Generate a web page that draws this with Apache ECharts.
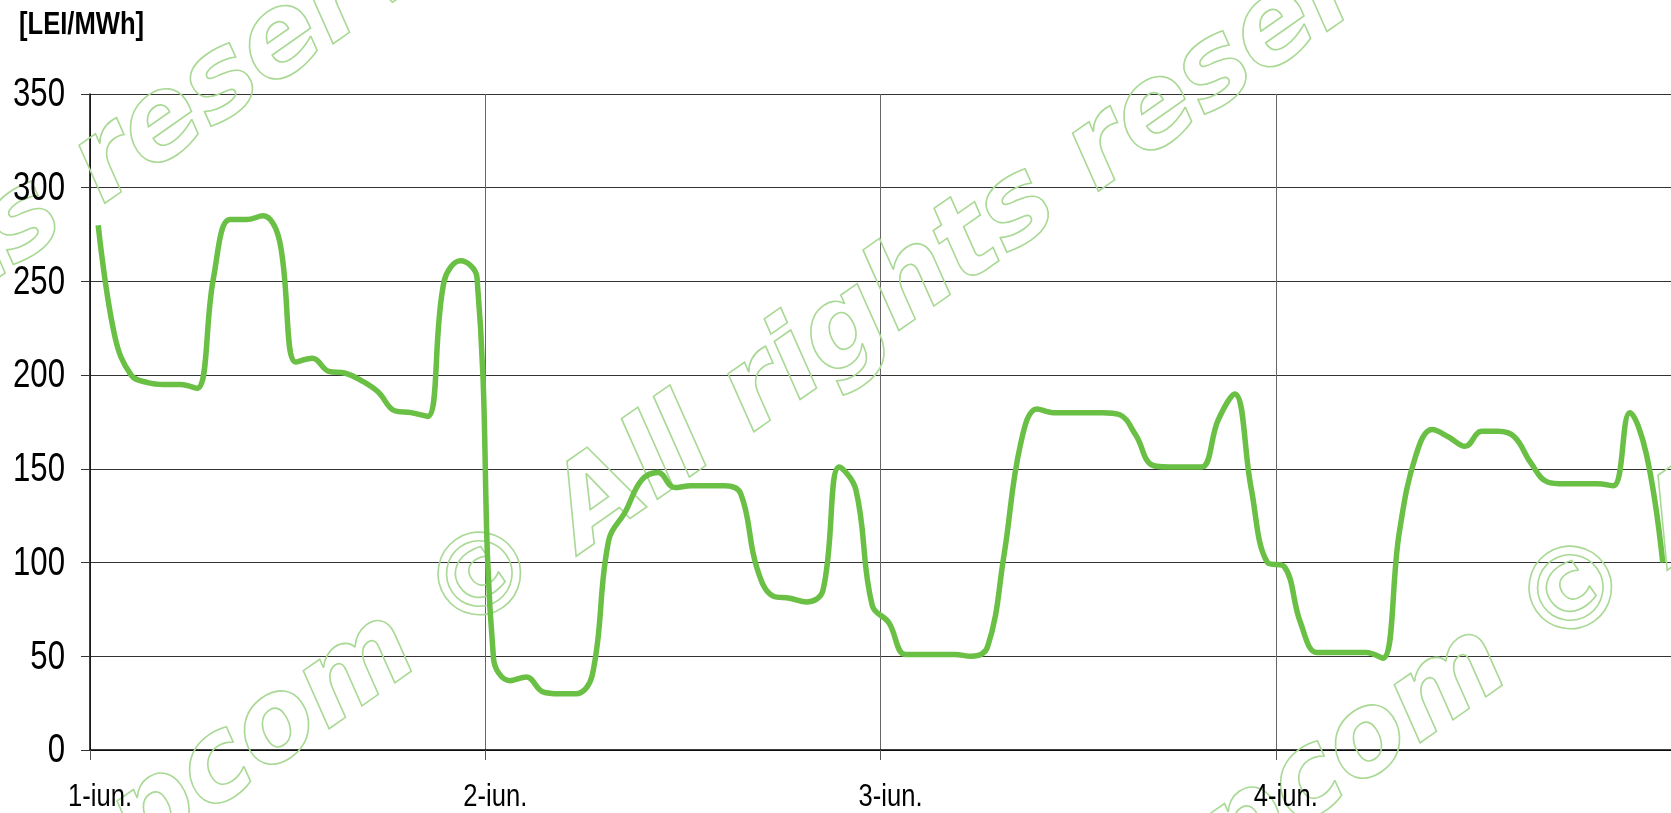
<!DOCTYPE html>
<html>
<head>
<meta charset="utf-8">
<script src="https://cdn.jsdelivr.net/npm/echarts@6/dist/echarts.min.js"></script>
<style>html,body{margin:0;padding:0;background:#fff;}</style>
</head>
<body>
<div id="main" style="width:1671px;height:813px"></div>
<script type="text/javascript">
// day labels, y ticks and hourly prices [LEI/MWh]
var dayLabels = ['1-iun.', '2-iun.', '3-iun.', '4-iun.'];
var yTicks = [0, 50, 100, 150, 200, 250, 300, 350];
var day1 = [280, 221, 200, 196, 195, 195, 193, 252, 283, 283, 285, 272, 207, 209, 202, 201, 197, 191, 181, 180, 178, 250, 261, 252];
var day2 = [49, 37, 39, 31, 30, 30, 40, 112, 127, 144, 148, 140, 141, 141, 141, 137, 97, 82, 81, 79, 85, 151, 139, 77];
var day3 = [68, 51, 51, 51, 51, 50, 55, 104, 163, 182, 180, 180, 180, 180, 179, 168, 152, 151, 151, 151, 176, 190, 140, 100];
var day4 = [98, 68, 52, 52, 52, 52, 49, 116, 157, 171, 167, 162, 170, 170, 167, 153, 143, 142, 142, 142, 141, 180, 158, 100];

var prices = day1.concat(day2, day3, day4);
var lineData = prices.map(function (v, i) { return [i + 0.5, v]; });

// narrow (Arial Narrow like) text: Liberation Sans squeezed
function narrowText(x, y, text, size, sx, align, bold) {
	return {
		type: 'text', x: x, y: y, scaleX: sx, z: 5, silent: true,
		style: {
			text: text, x: 0, y: 0,
			font: (bold ? 'bold ' : '') + size + 'px "Liberation Sans"',
			textAlign: align, verticalAlign: 'middle', fill: '#000'
		}
	};
}

// watermark
var wmText = 'opcom \u00a9 All rights reserved \u00a9 opcom';
var wmFont = 'italic bold 114px "DejaVu Sans"';
var ctx = document.createElement('canvas').getContext('2d');
ctx.font = wmFont;
function wmLine(idx, ax, ay) {
	var pre = ctx.measureText(wmText.slice(0, idx)).width + ctx.measureText(wmText.charAt(idx)).width / 2;
	return {
		type: 'text', x: ax, y: ay, rotation: 0.61, z: 1, silent: true,
		style: {
			text: wmText, x: -pre, y: 0, font: wmFont,
			textAlign: 'left', verticalAlign: 'middle',
			fill: 'none', stroke: '#a9d995', lineWidth: 1.6
		}
	};
}

var myChart = echarts.init(document.getElementById('main'));
var option = {
	animation: false,
	backgroundColor: '#fff',
	grid: { left: 90, right: -9, top: 94, bottom: 63, containLabel: false },
	xAxis: {
		type: 'value', min: 0, max: 96, interval: 24,
		axisLine: { show: true, lineStyle: { color: '#000', width: 1.5 } },
		axisTick: { show: true, length: 10, lineStyle: { color: '#555' } },
		axisLabel: { show: false },
		splitLine: { show: true, lineStyle: { color: '#666', width: 1 } }
	},
	yAxis: {
		type: 'value', min: 0, max: 350, interval: 50,
		axisLine: { show: true, lineStyle: { color: '#000', width: 1.5 } },
		axisTick: { show: true, length: 9, lineStyle: { color: '#333' } },
		axisLabel: { show: false },
		splitLine: { show: true, lineStyle: { color: '#333', width: 1 } }
	},
	series: [{
		type: 'line',
		data: lineData,
		smooth: 0.4,
		showSymbol: false,
		z: 3,
		lineStyle: { color: '#6abf45', width: 5.5 }
	}]
};
myChart.setOption(option);

// axis labels and unit, placed from the axis scales
var els = [
	wmLine(wmText.indexOf('reserved'), 108, 165),
	wmLine(wmText.indexOf('\u00a9'), 486, 583),
	wmLine(wmText.indexOf('\u00a9'), 1577, 597),
	narrowText(19, 25, '[LEI/MWh]', 32, 0.8, 'left', true)
];
yTicks.forEach(function (v) {
	var py = myChart.convertToPixel({ yAxisIndex: 0 }, v);
	els.push(narrowText(65, py + 1, String(v), 41, 0.76, 'right', false));
});
dayLabels.forEach(function (d, i) {
	var px = myChart.convertToPixel({ xAxisIndex: 0 }, i * 24);
	els.push(narrowText(px + 10, 797, d, 32, 0.8, 'center', false));
});
myChart.setOption({ graphic: els });
</script>
</body>
</html>
